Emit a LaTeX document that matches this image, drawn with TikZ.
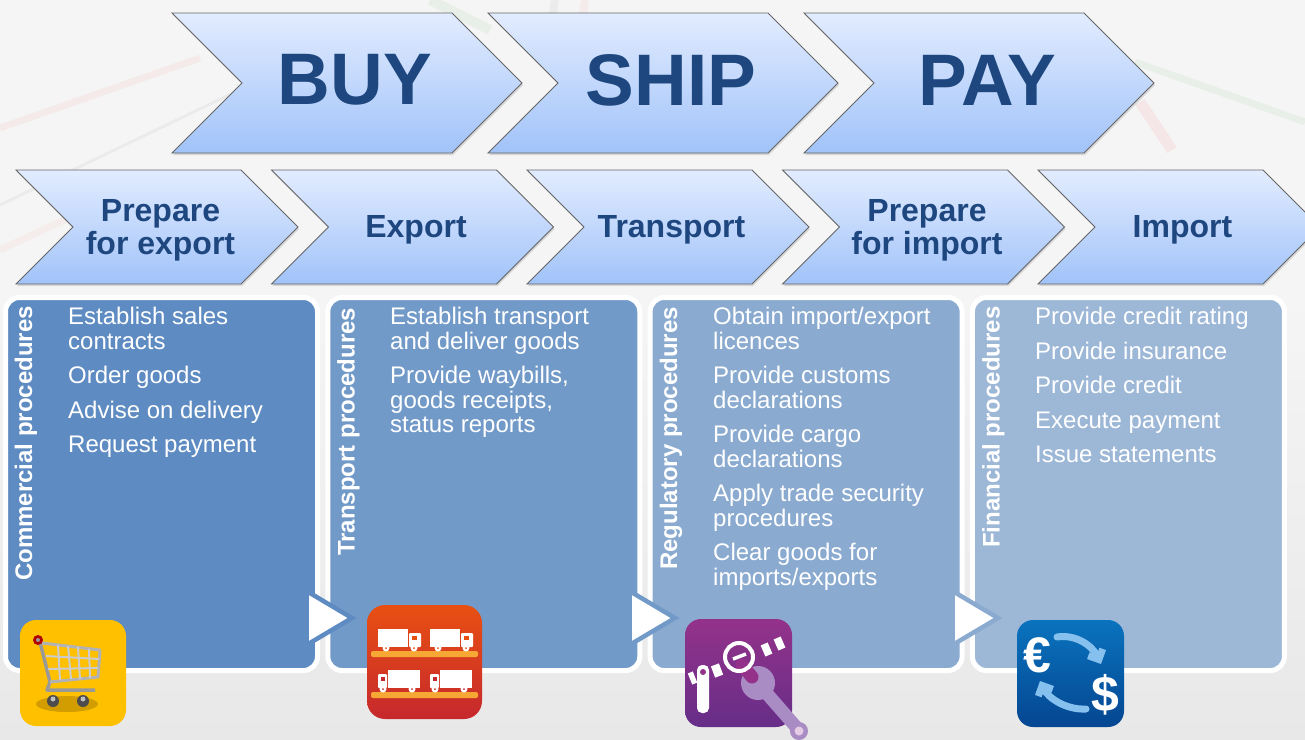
\documentclass[tikz,border=0pt]{standalone}
\usepackage{fontspec}
\setmainfont{Liberation Sans}
\usetikzlibrary{
  arrows.meta,
  calc,
  positioning,
  shadows,
  shapes.symbols,
}
\definecolor{titleblue}{RGB}{31, 71, 127}
\definecolor{chevrontop}{RGB}{226, 236, 255}
\definecolor{chevronbottom}{RGB}{161, 195, 249}
\definecolor{commercialblue}{RGB}{94, 139, 194}
\definecolor{transportblue}{RGB}{114, 154, 200}
\definecolor{regulatoryblue}{RGB}{138, 170, 208}
\definecolor{financialblue}{RGB}{157, 183, 215}
\definecolor{cartyellow}{RGB}{255, 192, 0}
\definecolor{shelforange}{RGB}{247, 167, 51}
\definecolor{truckorange}{RGB}{232, 80, 18}
\definecolor{truckred}{RGB}{198, 40, 45}
\definecolor{gatetop}{RGB}{148, 50, 138}
\definecolor{gatebottom}{RGB}{102, 46, 136}
\definecolor{wrenchpurple}{RGB}{170, 140, 196}
\definecolor{moneytop}{RGB}{10, 115, 190}
\definecolor{moneybottom}{RGB}{5, 70, 145}
\definecolor{swaparrow}{RGB}{133, 192, 238}
\tikzstyle{chevron} = [
  draw=black!60,
  line width=0.8pt,
  signal,
  signal from=west,
  signal to=east,
  signal pointer angle=90,
  inner sep=0pt,
  outer sep=0pt,
  top color=chevrontop,
  bottom color=chevronbottom,
  drop shadow={shadow xshift=1pt,shadow yshift=-2pt,opacity=0.25},
]
\tikzstyle{bigchevron} = [
  chevron,
  minimum width=350,
  minimum height=140,
]
\tikzstyle{smallchevron} = [
  chevron,
  minimum width=282,
  minimum height=114,
]
\tikzstyle{bigtitle} = [
  text=titleblue,
  xshift=8,
  yshift=3,
  font=\bfseries\fontsize{73}{73}\selectfont,
]
\tikzstyle{smalltitle} = [
  text=titleblue,
  align=center,
  xshift=3.5,
  yshift=-3,
  font=\bfseries\fontsize{32}{33}\selectfont,
]
\tikzstyle{panel} = [
  draw=white,
  line width=5pt,
  rectangle,
  rounded corners=14pt,
  outer sep=0pt,
  minimum width=312,
  minimum height=373,
]
\tikzstyle{proctitle} = [
  rotate=90,
  anchor=base west,
  inner sep=0pt,
  text=white,
  font=\bfseries\fontsize{24}{24}\selectfont,
]
\tikzstyle{proclist} = [
  anchor=north west,
  inner sep=0pt,
  align=left,
  text=white,
  font=\fontsize{24}{24.5}\selectfont,
]
\tikzstyle{icon} = [
  rectangle,
  rounded corners=16pt,
  anchor=north west,
  outer sep=0pt,
]
\tikzstyle{steptri} = [
  line width=4.5pt,
  line join=miter,
  fill=white,
]
\tikzstyle{truckbody} = [fill=white]

\begin{document}
\begin{tikzpicture}[x=1pt,y=-1pt]
    \useasboundingbox (0,0) rectangle (1305,739);
    % page and the faint lines behind everything
    \fill[black!4] (0,0) rectangle (1305,300);
    \shade[top color=black!4,bottom color=black!9] (0,300) rectangle (1305,739);
    \draw[red!60,opacity=0.07,line width=7pt] (0,128) -- (200,58);
    \draw[black,opacity=0.04,line width=3pt] (0,205) -- (235,92);
    \draw[red!60,opacity=0.06,line width=7pt] (0,250) -- (75,215);
    \draw[green!50!black,opacity=0.05,line width=7pt] (1135,62) -- (1305,122);
    \draw[red!70,opacity=0.08,line width=11pt] (1140,102) -- (1172,150);
    \draw[black,opacity=0.06,line width=6pt] (1135,170) arc (180:340:30 and -22);
    \draw[green!50!black,opacity=0.05,line width=10pt] (430,0) -- (490,30);
    \draw[black,opacity=0.04,line width=8pt] (555,0) -- (553,14);
    \draw[red,opacity=0.04,line width=8pt] (585,0) -- (583,14);

    % top row
    \node[bigchevron] (buy) at (347,83) {};
    \node[bigchevron] (ship) [right=36pt of buy] {};
    \node[bigchevron] (pay) [right=36pt of ship] {};
    \node[bigtitle] (buytext) at (buy) {BUY};
    \node[bigtitle] (shiptext) at (ship) {SHIP};
    \node[bigtitle] (paytext) at (pay) {PAY};

    % second row
    \node[smallchevron] (prepexp) at (157,227) {};
    \node[smallchevron] (export) [right=30.5pt of prepexp] {};
    \node[smallchevron] (transport) [right=30.5pt of export] {};
    \node[smallchevron] (prepimp) [right=30.5pt of transport] {};
    \node[smallchevron] (import) [right=30.5pt of prepimp] {};
    \node[smalltitle] (prepexptext) at (prepexp) {Prepare\\for export};
    \node[smalltitle] (exporttext) at (export) {Export};
    \node[smalltitle] (transporttext) at (transport) {Transport};
    \node[smalltitle] (prepimptext) at (prepimp) {Prepare\\for import};
    \node[smalltitle] (importtext) at (import) {Import};

    % panels
    \node[panel,fill=commercialblue] (commercial) at (161.5,484) {};
    \node[panel,fill=transportblue] (transportp) [right=10.3pt of commercial] {};
    \node[panel,fill=regulatoryblue] (regulatory) [right=10.3pt of transportp] {};
    \node[panel,fill=financialblue] (financial) [right=10.3pt of regulatory] {};

    \node[proctitle] (commercialt) at (32,581) {Commercial procedures};
    \node[proctitle] (transportt) at (354.5,556) {Transport procedures};
    \node[proctitle] (regulatoryt) at (677,570) {Regulatory procedures};
    \node[proctitle] (financialt) at (999.5,548) {Financial procedures};

    \node[proclist] (commerciall) at (68,307) {Establish sales\\contracts\\[10pt]Order goods\\[10pt]Advise on delivery\\[10pt]Request payment};
    \node[proclist] (transportl) at (390,307) {Establish transport\\and deliver goods\\[10pt]Provide waybills,\\goods receipts,\\status reports};
    \node[proclist] (regulatoryl) at (713,307) {Obtain import/export\\licences\\[10pt]Provide customs\\declarations\\[10pt]Provide cargo\\declarations\\[10pt]Apply trade security\\procedures\\[10pt]Clear goods for\\imports/exports};
    \node[proclist] (financiall) at (1035,307) {Provide credit rating\\[10pt]Provide insurance\\[10pt]Provide credit\\[10pt]Execute payment\\[10pt]Issue statements};

    % triangles between panels
    \draw[steptri,draw=commercialblue] (306.5,591) -- (352,618) -- (306.5,645) -- cycle;
    \draw[steptri,draw=transportblue] (629.5,591) -- (675,618) -- (629.5,645) -- cycle;
    \draw[steptri,draw=regulatoryblue] (952.5,591) -- (998,618) -- (952.5,645) -- cycle;

    % cart icon
    \node[icon,fill=cartyellow,minimum width=106,minimum height=106] (carticon) at (20,620) {};
    \fill[black!40!cartyellow,opacity=0.45] (67,704) ellipse (31 and 8);
    \draw[black!40,line width=3.5pt,line join=round] (40,642) -- (50,682) -- (47,690) -- (95,690);
    \draw[black!30,line width=3pt,line join=round] (42,643) -- (100,650) -- (98,677) -- (50,682);
    \draw[white!80!black,line width=2pt] (46,656) -- (99,659);
    \draw[white!80!black,line width=2pt] (48,669) -- (98,668);
    \draw[white!80!black,line width=2pt] (58,645) -- (60,680) (68,646) -- (71,679) (78,647) -- (80,679) (89,649) -- (90,678);
    \fill[black!70] (53,701) circle (6) (83,701) circle (6);
    \fill[black!25] (53,699) circle (2.5) (83,699) circle (2.5);
    \fill[red!70!black] (38,640) circle (5);
    \fill[black!40] (38,640) circle (2);

    % truck icon
    \node[icon,top color=truckorange,bottom color=truckred,minimum width=115,minimum height=114,rounded corners=18pt] (truckicon) at (367,605) {};
    \fill[shelforange,rounded corners=2pt] (371,651) rectangle (478,657) (371,692) rectangle (478,698);
    \foreach \dx in {0,52} {
      \fill[truckbody,shift={(\dx,0)}] (378,629) rectangle (408,647);
      \fill[truckbody,shift={(\dx,0)},rounded corners=1pt] (409,633) rectangle (421,647);
      \fill[truckorange,shift={(\dx,0)}] (412,636) rectangle (417,640);
      \fill[truckbody,shift={(\dx,0)}] (386,648) circle (3.5) (414,648) circle (3.5);
      \fill[truckorange,shift={(\dx,0)}] (386,648) circle (1) (414,648) circle (1);
      \fill[truckbody,shift={(\dx,41)}] (388,629) rectangle (420,647);
      \fill[truckbody,shift={(\dx,41)},rounded corners=1pt] (378,633) rectangle (387,647);
      \fill[truckred,shift={(\dx,41)}] (381,636) rectangle (385,640);
      \fill[truckbody,shift={(\dx,41)}] (383,648) circle (3.5) (412,648) circle (3.5);
      \fill[truckred,shift={(\dx,41)}] (383,648) circle (1) (412,648) circle (1);
    }

    % gate icon
    \node[icon,top color=gatetop,bottom color=gatebottom,minimum width=107,minimum height=108] (gateicon) at (685,619) {};
    \fill[white,rounded corners=5pt] (697,713) -- (697,665) -- (709,665) -- (709,713) -- cycle;
    \fill[gatetop] (703,672) circle (3);
    \draw[wrenchpurple,line width=13pt] (762,688) -- (797,728);
    \fill[wrenchpurple] (758,683) circle (17);
    \draw[gatetop,line width=13pt,line cap=round] (752,677) -- (742,665);
    \fill[wrenchpurple] (799,731) circle (9);
    \fill[white!80!violet] (799,731) circle (4.5);
    \draw[white,line width=12pt] (690,679) -- (695,677) (713,672) -- (721,669) (763,651) -- (770,648) (776,645) -- (783,642);
    \draw[white,line width=3.5pt] (733,659) -- (746,654);
    \draw[white,line width=4pt] (739,657) circle (14);

    % currency icon
    \node[icon,top color=moneytop,bottom color=moneybottom,minimum width=107,minimum height=107] (curricon) at (1017,620) {};
    \node[white,font=\bfseries\fontsize{50}{50}\selectfont] (euro) at (1037,655) {€};
    \node[white,font=\bfseries\fontsize{50}{50}\selectfont] (dollar) at (1105,695) {\$};
    \draw[swaparrow,line width=7pt,line cap=round,-{Straight Barb[length=8pt,width=16pt]}] (1057,637) .. controls (1075,634) and (1092,645) .. (1101,664);
    \draw[swaparrow,line width=7pt,line cap=round,-{Straight Barb[length=8pt,width=16pt]}] (1086,709) .. controls (1066,710) and (1048,698) .. (1040,681);
\end{tikzpicture}
\end{document}
